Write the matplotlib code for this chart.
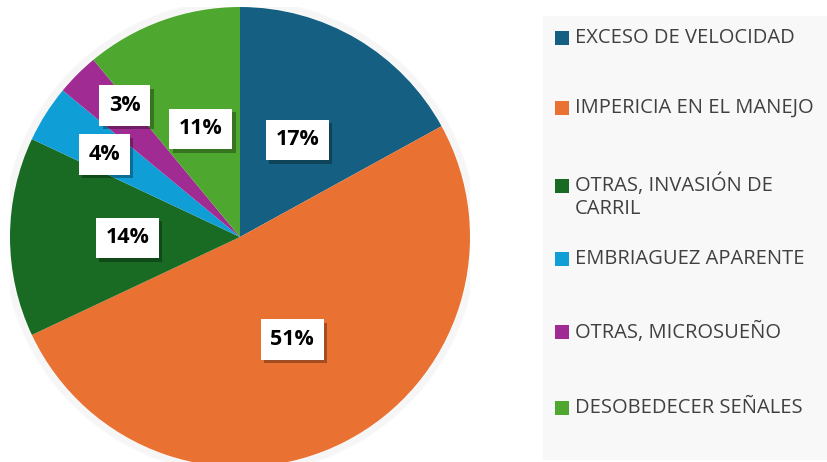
import matplotlib
matplotlib.use("Agg")
import matplotlib.pyplot as plt
import matplotlib.patheffects as pe
from matplotlib.patches import Rectangle, Circle
import numpy as np

categories = ["EXCESO DE VELOCIDAD", "IMPERICIA EN EL MANEJO",
              "OTRAS, INVASIÓN DE\nCARRIL", "EMBRIAGUEZ APARENTE",
              "OTRAS, MICROSUEÑO", "DESOBEDECER SEÑALES"]
values = [17, 51, 14, 4, 3, 11]
colors = ["#156082", "#E97132", "#196B24", "#0F9ED5", "#A02B93", "#4EA72E"]

# label placement (radius fraction, angle in degrees) as Excel placed them
label_place = [(0.49, 59.5), (0.50, -63.0), (0.49, -179.5), (0.69, 148.7), (0.76, 131.3), (0.50, 110.0)]

W, H = 827, 462
fig = plt.figure(figsize=(W / 100, H / 100), dpi=100)
fig.patch.set_facecolor("white")

# pie axes: center (240,237) px, radius 230 px
cx, cy, r = 240, 237, 230
ax = fig.add_axes([(cx - r) / W, (H - cy - r) / H, 2 * r / W, 2 * r / H])

# soft shadow around pie
for i in range(10):
    ax.add_patch(Circle((0, 0), 1 + 0.003 * (i + 1), facecolor="none",
                        edgecolor="black", lw=1.5, alpha=0.012, zorder=0))

wedges, _ = ax.pie(values, colors=colors, startangle=90, counterclock=False,
                   radius=1, wedgeprops=dict(linewidth=0))
ax.set_xlim(-1, 1)
ax.set_ylim(-1, 1)
ax.set_aspect("equal")
ax.axis("off")

for v, (rr, ang) in zip(values, label_place):
    a = np.deg2rad(ang)
    t = ax.text(rr * np.cos(a), rr * np.sin(a), f"{v}%", ha="center", va="center",
                fontsize=15.5, fontweight="bold", family="Open Sans", color="black",
                bbox=dict(boxstyle="square,pad=0.45", facecolor="white", edgecolor="none"),
                zorder=5)
    t.get_bbox_patch().set_path_effects([pe.SimplePatchShadow(offset=(2.5, -2.5), shadow_rgbFace="black", alpha=0.3),
                                         pe.Normal()])

# legend panel
fig.patches.append(Rectangle((543 / W, (H - 460) / H), (W - 543) / W, (460 - 16) / H,
                             transform=fig.transFigure, facecolor="#F8F8F8",
                             edgecolor="none", zorder=0))

ys = [38, 108, 186, 259, 332, 408]
for lab, col, y in zip(categories, colors, ys):
    fig.patches.append(Rectangle((555 / W, (H - y - 7) / H), 14 / W, 14 / H,
                                 transform=fig.transFigure, facecolor=col,
                                 edgecolor="none", zorder=2))
    if "\n" not in lab:
        fig.text(575 / W, (H - y) / H, lab, ha="left", va="center",
                 fontsize=14.5, family="Open Sans", color="#404040")
    else:
        fig.text(575 / W, (H - y + 13) / H, lab, ha="left", va="top",
                 fontsize=14.5, family="Open Sans", color="#404040", linespacing=1.25)

fig.savefig("out.png", dpi=100)
